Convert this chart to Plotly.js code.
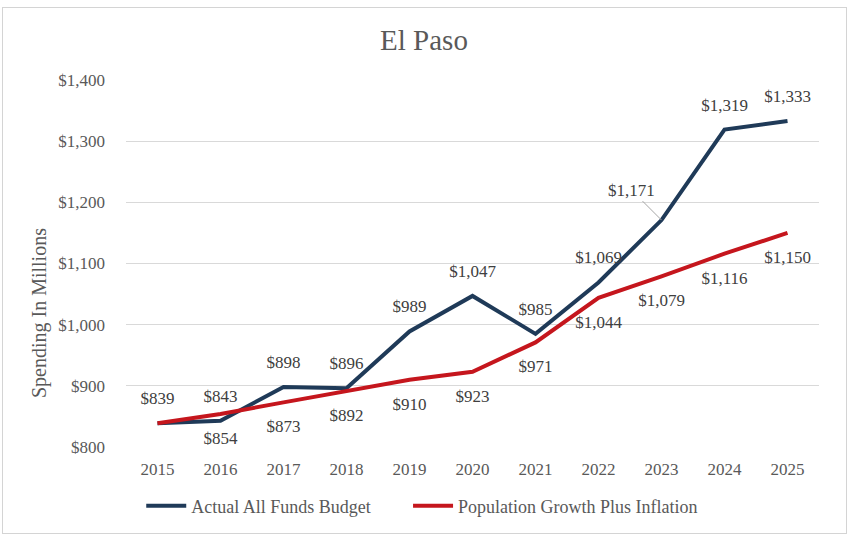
<!DOCTYPE html>
<html>
<head>
<meta charset="utf-8">
<script src="https://cdn.plot.ly/plotly-3.0.1.min.js"></script>
<style>
  body{margin:0;background:#fff;}
  #frame{position:absolute;left:2px;top:7px;width:845px;height:527px;box-sizing:border-box;border:1.5px solid #d4d4d4;}
  #chart{width:842px;height:524px;}
</style>
</head>
<body>
<div id="frame"><div id="chart"></div></div>
<script>
// values in millions of dollars
let years = ["2015","2016","2017","2018","2019","2020","2021","2022","2023","2024","2025"];
let actualBudget = [839, 843, 898, 896, 989, 1047, 985, 1069, 1171, 1319, 1333];
let popInflation = [839, 854, 873, 892, 910, 923, 971, 1044, 1079, 1116, 1150];
let yTicks = [800, 900, 1000, 1100, 1200, 1300, 1400];

function money(v){return "$"+v.toLocaleString("en-US");}

let navy = "#1f3a58", red = "#c5161d";
let serif = "Liberation Serif, Times New Roman, serif";

// 2023 actual label sits off to the side with a leader line (annotation below)
let actualText = actualBudget.map((v,i)=> i===8 ? "" : money(v));
let popText = popInflation.map((v,i)=> i===0 ? "" : money(v));

let actual = {
  x: years, y: actualBudget, name: "Actual All Funds Budget",
  type: "scatter", mode: "lines", legend: "legend",
  line: {color: navy, width: 4}
};
let pop = {
  x: years, y: popInflation, name: "Population Growth Plus Inflation",
  type: "scatter", mode: "lines", legend: "legend2",
  line: {color: red, width: 4}
};
// label-only traces, invisible markers just push the text away from the line
let actualLbl = {
  x: years, y: actualBudget, type: "scatter", mode: "markers+text", showlegend: false,
  marker: {size: 22, opacity: 0},
  text: actualText, textposition: "top center",
  textfont: {family: serif, size: 17, color: "#404040"}
};
let popLbl = {
  x: years, y: popInflation, type: "scatter", mode: "markers+text", showlegend: false,
  marker: {size: 26, opacity: 0},
  text: popText, textposition: "bottom center",
  textfont: {family: serif, size: 17, color: "#404040"}
};

let legendBase = {orientation: "h", xanchor: "left", yref: "container", y: 1 - 498/524,
                  yanchor: "middle", font: {size: 18, color: "#595959"}, itemwidth: 40};

let layout = {
  width: 842, height: 524,
  margin: {l: 123, r: 26, t: 72, b: 85},
  paper_bgcolor: "#fff", plot_bgcolor: "#fff",
  font: {family: serif, color: "#595959", size: 17},
  hovermode: false,
  title: {text: "El Paso", font: {family: serif, size: 29, color: "#595959"},
          x: 0.5, xanchor: "center", y: 1 - 32/524, yref: "container", yanchor: "middle"},
  xaxis: {type: "category", range: [-0.5, 10.5], showgrid: false, zeroline: false,
          showline: false, ticks: "", ticklabelstandoff: 10, tickfont: {size: 17}},
  yaxis: {range: [800, 1400], tickvals: yTicks, ticktext: yTicks.map(money),
          showgrid: true, gridcolor: "#d9d9d9", gridwidth: 1.2, zeroline: false,
          showline: false, ticks: "", ticklabelstandoff: 20, tickfont: {size: 17}},
  showlegend: true,
  legend: Object.assign({}, legendBase, {x: 0.022}),
  legend2: Object.assign({}, legendBase, {x: 0.407}),
  annotations: [
    {
      xref: "paper", yref: "paper", x: -0.1255, y: 0.365, textangle: -90,
      xanchor: "center", yanchor: "middle",
      text: "Spending In Millions", showarrow: false,
      font: {family: serif, size: 20, color: "#595959"}
    },
    {
      xref: "x", yref: "y", x: 8, y: actualBudget[8], text: money(actualBudget[8]),
      showarrow: true, arrowhead: 0, arrowwidth: 1, arrowcolor: "#a6a6a6",
      axref: "pixel", ayref: "pixel", ax: -30, ay: -30, standoff: 0,
      font: {family: serif, size: 17, color: "#404040"}
    }
  ]
};

Plotly.newPlot("chart", [actual, pop, actualLbl, popLbl], layout, {displayModeBar: false});
</script>
</body>
</html>
